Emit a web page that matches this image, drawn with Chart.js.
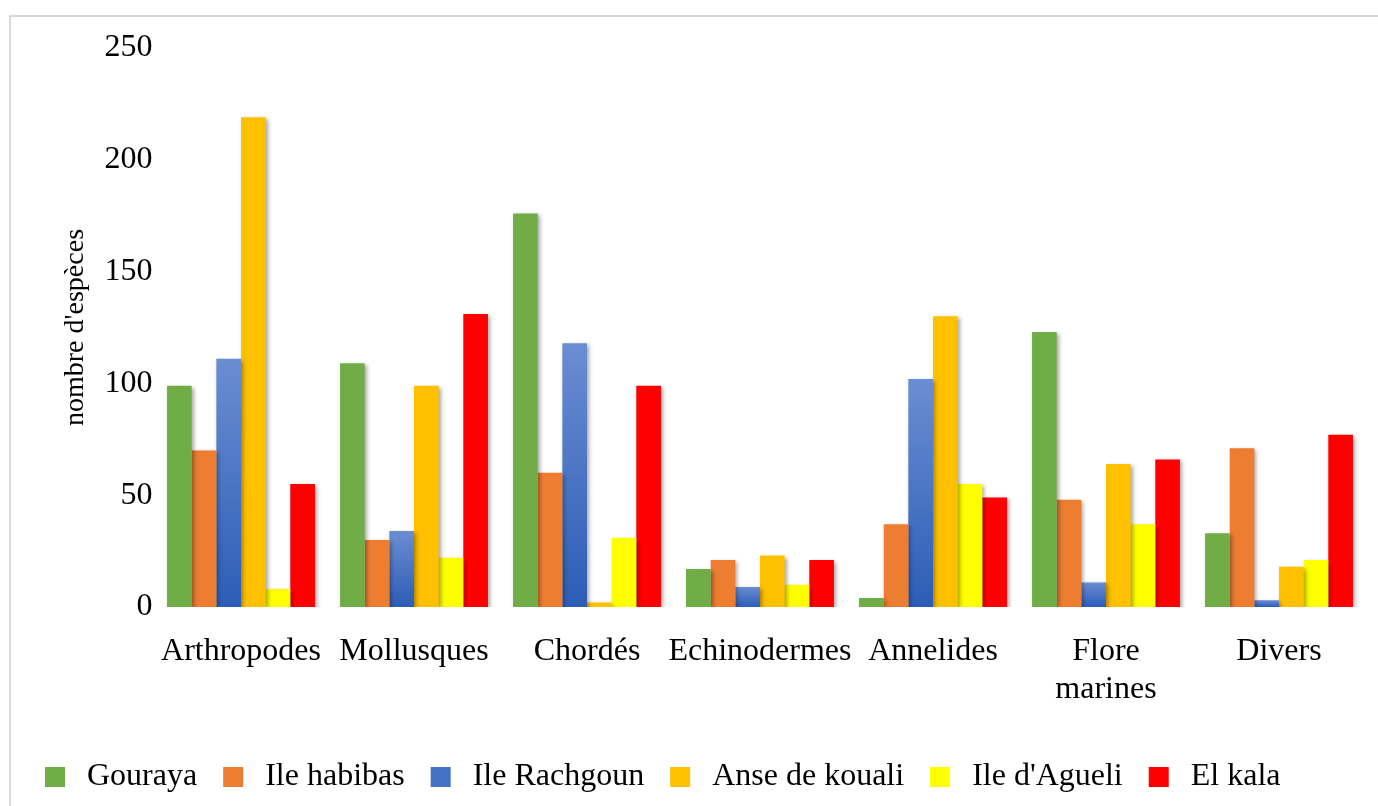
<!DOCTYPE html>
<html>
<head>
<meta charset="utf-8">
<script src="https://cdn.jsdelivr.net/npm/chart.js@4.4.1/dist/chart.umd.min.js"></script>
<style>
  html, body { margin: 0; padding: 0; background: #fff; overflow: hidden; }
  #cadre { position: absolute; left: 9px; top: 15px; width: 1500px; height: 900px;
           border-left: 2px solid #d9d9d9; border-top: 2px solid #d9d9d9; }
  #zone { position: absolute; left: 0; top: 0; width: 1378px; height: 806px; }
</style>
</head>
<body>
<div id="cadre"></div>
<div id="zone"><canvas id="graphique"></canvas></div>
<script>
const groupes = ['Arthropodes', 'Mollusques', 'Chordés', 'Echinodermes', 'Annelides', ['Flore', 'marines'], 'Divers']
const sites = ['Gouraya', 'Ile habibas', 'Ile Rachgoun', 'Anse de kouali', "Ile d'Agueli", 'El kala']
const couleurs = ['#70AD47', '#ED7D31', '#4472C4', '#FFC000', '#FFFF00', '#FF0000']

const gouraya   = [99, 109, 176, 17, 4, 123, 33]
const habibas   = [70, 30, 60, 21, 37, 48, 71]
const rachgoun  = [111, 34, 118, 9, 102, 11, 3]
const kouali    = [219, 99, 2, 23, 130, 64, 18]
const agueli    = [8, 22, 31, 10, 55, 37, 21]
const elKala    = [55, 131, 99, 21, 49, 66, 77]

const seriesSites = [gouraya, habibas, rachgoun, kouali, agueli, elKala]
const ticksY = [0, 50, 100, 150, 200, 250]

const police = 'Liberation Serif, "Times New Roman", serif'

// dégradé vertical pour les barres bleues (clair en haut, foncé en bas)
const degradeBleu = (ctx) => {
	const chart = ctx.chart
	const y = chart.scales && chart.scales.y
	if (!y || ctx.type !== 'data') return couleurs[2]
	const haut = y.getPixelForValue(ctx.raw)
	const bas = y.getPixelForValue(0)
	if (!isFinite(haut) || haut === bas) return couleurs[2]
	const g = chart.ctx.createLinearGradient(0, haut, 0, bas)
	g.addColorStop(0, '#6B8DD2')
	g.addColorStop(1, '#2C5DB6')
	return g
}

// ombre légère sous chaque barre
const ombreBarres = {
	id: 'ombreBarres',
	beforeDatasetsDraw(chart) {
		const c = chart.ctx
		c.save()
		c.shadowColor = 'rgba(0,0,0,0.35)'
		c.shadowBlur = 4
		c.shadowOffsetX = 2
		c.shadowOffsetY = 2
	},
	afterDatasetsDraw(chart) {
		chart.ctx.restore()
	}
}

const datasets = sites.map((nom, i) => ({
	label: nom,
	data: seriesSites[i],
	backgroundColor: i === 2 ? degradeBleu : couleurs[i],
	borderWidth: 0,
	categoryPercentage: 0.855,
	barPercentage: 1
}))

new Chart(document.getElementById('graphique'), {
	type: 'bar',
	data: { labels: groupes, datasets },
	plugins: [ombreBarres],
	options: {
		responsive: true,
		maintainAspectRatio: false,
		animation: false,
		layout: { padding: { top: 48, right: 12.5, bottom: 3, left: 19 } },
		plugins: {
			tooltip: { enabled: false },
			legend: {
				position: 'bottom',
				align: 'start',
				labels: {
					usePointStyle: true,
					pointStyle: 'rect',
					boxWidth: 32,
					boxHeight: 20,
					padding: 20,
					color: '#000',
					font: { family: police, size: 32 },
					generateLabels(chart) {
						const items = Chart.defaults.plugins.legend.labels.generateLabels(chart)
						items.forEach((it, i) => {
							it.fillStyle = couleurs[i]
							it.strokeStyle = couleurs[i]
							it.lineWidth = 0
						})
						return items
					}
				}
			}
		},
		scales: {
			x: {
				grid: { display: false, drawTicks: false },
				border: { display: false },
				ticks: {
					color: '#000',
					padding: 25,
					maxRotation: 0,
					autoSkip: false,
					font: { family: police, size: 32 }
				},
				afterFit(scale) { scale.height = 134 }
			},
			y: {
				min: 0,
				max: 250,
				grid: { display: false, drawTicks: false },
				border: { display: false },
				afterBuildTicks(scale) { scale.ticks = ticksY.map(v => ({ value: v })) },
				ticks: {
					color: '#000',
					padding: 2,
					font: { family: police, size: 32 }
				},
				title: {
					display: true,
					text: "nombre d'espèces",
					color: '#000',
					padding: { top: 40, bottom: 0 },
					font: { family: police, size: 28 }
				},
				afterFit(scale) { scale.width = 135.5 }
			}
		}
	}
})
</script>
</body>
</html>
